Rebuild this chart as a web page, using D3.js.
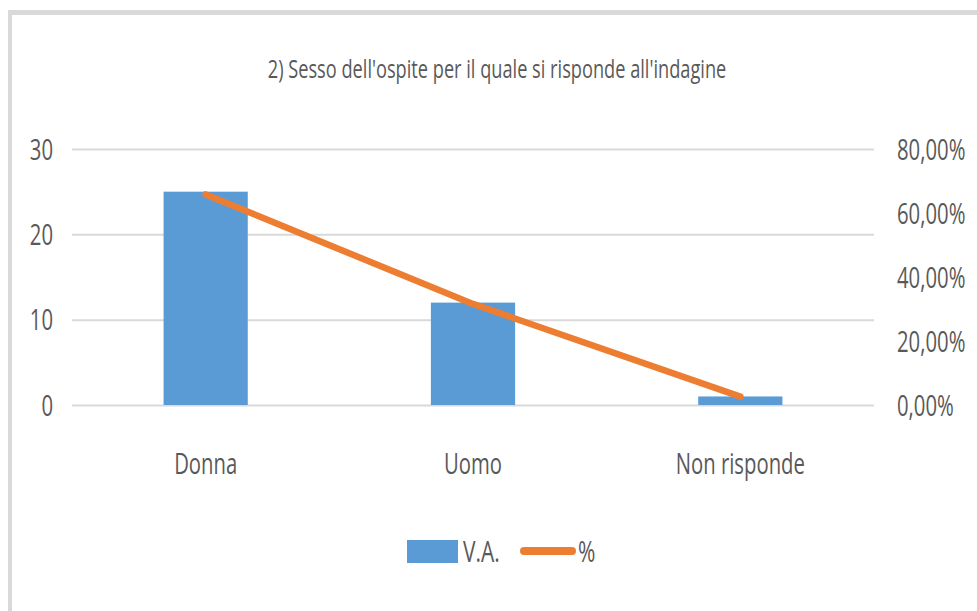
<!DOCTYPE html>
<html>
<head>
<meta charset="utf-8">
<script src="https://cdn.jsdelivr.net/npm/d3@7"></script>
<style>
	html, body { margin: 0; padding: 0; background: #fff; }
	svg { display: block; }
	text { font-family: "Open Sans", sans-serif; fill: #595959; }
</style>
</head>
<body>
<script>
//// Sesso dell'ospite - combo chart ////

const title = "2) Sesso dell'ospite per il quale si risponde all'indagine"
const categories = ["Donna", "Uomo", "Non risponde"]
const va = [25, 12, 1]
const pct = [0.6579, 0.3158, 0.0263]
const leftTicks = [0, 10, 20, 30]
const rightTicks = [0, 0.2, 0.4, 0.6, 0.8]
const seriesNames = ["V.A.", "%"]

const width = 977
const height = 611
const squeeze = 0.7 // the text in the picture is narrow

function main() {
	const svg = d3.create("svg")
		.attr("width", width)
		.attr("height", height)

	// chart frame, only top and left edges show
	svg.append("rect").attr("x", 8).attr("y", 10).attr("width", width).attr("height", 5).attr("fill", "#d9d9d9")
	svg.append("rect").attr("x", 8).attr("y", 10).attr("width", 4).attr("height", height).attr("fill", "#d9d9d9")

	const x = d3.scaleBand()
		.domain(categories)
		.range([72, 874])
		.paddingInner(0.685)
		.paddingOuter(0.3425)

	const y = d3.scaleLinear().domain([0, 30]).range([405, 149])
	const y2 = d3.scaleLinear().domain([0, 0.8]).range([405, 149])

	const it = d3.formatLocale({decimal: ",", thousands: ".", grouping: [3], currency: ["€", ""]})
	const pctFmt = it.format(".2%")

	// Gridlines
	svg.append("g")
		.attr("transform", "translate(72,0)")
		.call(d3.axisLeft(y).tickValues(leftTicks).tickSize(-802).tickFormat(""))
		.call(g => g.select(".domain").remove())
		.call(g => g.selectAll("line").attr("stroke", "#d9d9d9").attr("stroke-width", 2))

	// Left axis
	svg.append("g")
		.attr("transform", "translate(72,0)")
		.call(d3.axisLeft(y).tickValues(leftTicks).tickSize(0))
		.call(g => g.select(".domain").remove())
		.call(g => g.selectAll("text")
			.attr("x", -19 / squeeze)
			.attr("dy", "0.35em")
			.attr("transform", `scale(${squeeze},1)`)
			.style("font-size", "29px")
			.attr("fill", "#595959"))

	// Right axis
	svg.append("g")
		.attr("transform", "translate(874,0)")
		.call(d3.axisRight(y2).tickValues(rightTicks).tickSize(0).tickFormat(pctFmt))
		.call(g => g.select(".domain").remove())
		.call(g => g.selectAll("text")
			.attr("x", 23 / squeeze)
			.attr("dy", "0.35em")
			.attr("transform", `scale(${squeeze},1)`)
			.style("font-size", "29px")
			.attr("fill", "#595959"))

	// Category labels
	svg.append("g")
		.attr("transform", "translate(0,405)")
		.call(d3.axisBottom(x).tickSize(0))
		.call(g => g.select(".domain").remove())
		.call(g => g.selectAll("text")
			.attr("y", 69)
			.attr("dy", 0)
			.attr("transform", `scale(${squeeze},1)`)
			.style("font-size", "29px")
			.attr("fill", "#595959"))

	// Bars
	svg.append("g")
		.selectAll("rect")
		.data(categories)
		.join("rect")
		.attr("x", d => x(d))
		.attr("y", (d, i) => y(va[i]))
		.attr("width", x.bandwidth())
		.attr("height", (d, i) => y(0) - y(va[i]))
		.attr("fill", "#5b9bd5")

	// Line
	const line = d3.line()
		.x((d, i) => x(categories[i]) + x.bandwidth() / 2)
		.y(d => y2(d))

	svg.append("path")
		.datum(pct)
		.attr("d", line)
		.attr("fill", "none")
		.attr("stroke", "#ed7d31")
		.attr("stroke-width", 6.5)
		.attr("stroke-linecap", "round")
		.attr("stroke-linejoin", "round")

	// Title
	svg.append("text")
		.attr("transform", `translate(497,78) scale(${squeeze},1)`)
		.attr("text-anchor", "middle")
		.style("font-size", "26px")
		.text(title)

	// Legend
	const legend = svg.append("g")
	legend.append("rect")
		.attr("x", 407).attr("y", 540).attr("width", 51).attr("height", 23)
		.attr("fill", "#5b9bd5")
	legend.append("text")
		.attr("transform", `translate(463,562) scale(${squeeze},1)`)
		.style("font-size", "30px")
		.text(seriesNames[0])
	legend.append("line")
		.attr("x1", 524).attr("x2", 572).attr("y1", 551).attr("y2", 551)
		.attr("stroke", "#ed7d31").attr("stroke-width", 8).attr("stroke-linecap", "round")
	legend.append("text")
		.attr("transform", `translate(578,562) scale(${squeeze},1)`)
		.style("font-size", "30px")
		.text(seriesNames[1])

	document.body.append(svg.node())
}

main()
</script>
</body>
</html>
